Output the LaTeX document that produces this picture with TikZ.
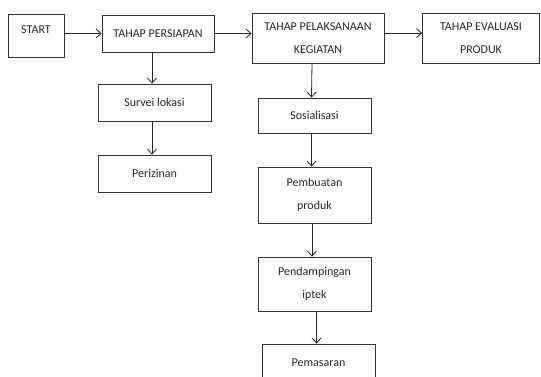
\documentclass[tikz,border=0pt]{standalone}
\usepackage{fontspec}
\setmainfont{Carlito}
\usepackage{tikz}
\usetikzlibrary{arrows.meta}

\begin{document}
\begin{tikzpicture}[
    x = 1pt, y = -1pt,
    every node/.style = {draw = black!80, line width = 0.8pt, align = center,
      text = black!85, font = \fontsize{12}{22.5}\selectfont, inner sep = 0pt},
    box/.style args = {#1x#2}{minimum width = #1pt, minimum height = #2pt},
    arr/.style = {draw = black!85, line width = 0.8pt,
      -{Straight Barb[length = 5pt, width = 9pt]}}
  ]
  \clip (0,0) rectangle (541,376);

  % main row
  \node[box = 56x43, text depth = 11pt] (Start) at (36,35.5) {START};
  \node[box = 112x37] (Persiapan) at (158,33.5) {TAHAP PERSIAPAN};
  \node[box = 132x50] (Pelaksanaan) at (318,38) {TAHAP PELAKSANAAN\\KEGIATAN};
  \node[box = 117x50] (Evaluasi) at (481,38) {TAHAP EVALUASI\\PRODUK};

  % persiapan branch
  \node[box = 113x37] (Survei) at (154.5,102.5) {Survei lokasi};
  \node[box = 113x37] (Izin) at (154.5,173.5) {Perizinan};

  % pelaksanaan branch
  \node[box = 113x35] (Sosialisasi) at (314.5,115.5) {Sosialisasi};
  \node[box = 113x56] (Produk) at (314.5,195) {Pembuatan\\produk};
  \node[box = 113x54] (Iptek) at (314.5,284) {Pendampingan\\iptek};
  \node[box = 113x37] (Pasar) at (318.5,362.5) {Pemasaran};

  % Arrows
  \draw[arr] (Start.east |- Persiapan.west) -- (Persiapan.west);
  \draw[arr] (Persiapan.east) -- (Persiapan.east -| Pelaksanaan.west);
  \draw[arr] ([yshift=5pt]Pelaksanaan.east) -- ([yshift=5pt]Evaluasi.west);
  \draw[arr] ([xshift=-6pt]Persiapan.south) -- ([xshift=-2.5pt]Survei.north);
  \draw[arr] ([xshift=-2.5pt]Survei.south) -- ([xshift=-2.5pt]Izin.north);
  \draw[arr] ([xshift=-6pt]Pelaksanaan.south) -- ([xshift=-3pt]Sosialisasi.north);
  \draw[arr] ([xshift=-3pt]Sosialisasi.south) -- ([xshift=-3pt]Produk.north);
  \draw[arr] ([xshift=-2.5pt]Produk.south) -- ([xshift=-2.5pt]Iptek.north);
  \draw[arr] ([xshift=2pt]Iptek.south) -- ([xshift=-2pt]Pasar.north);

\end{tikzpicture}
\end{document}
